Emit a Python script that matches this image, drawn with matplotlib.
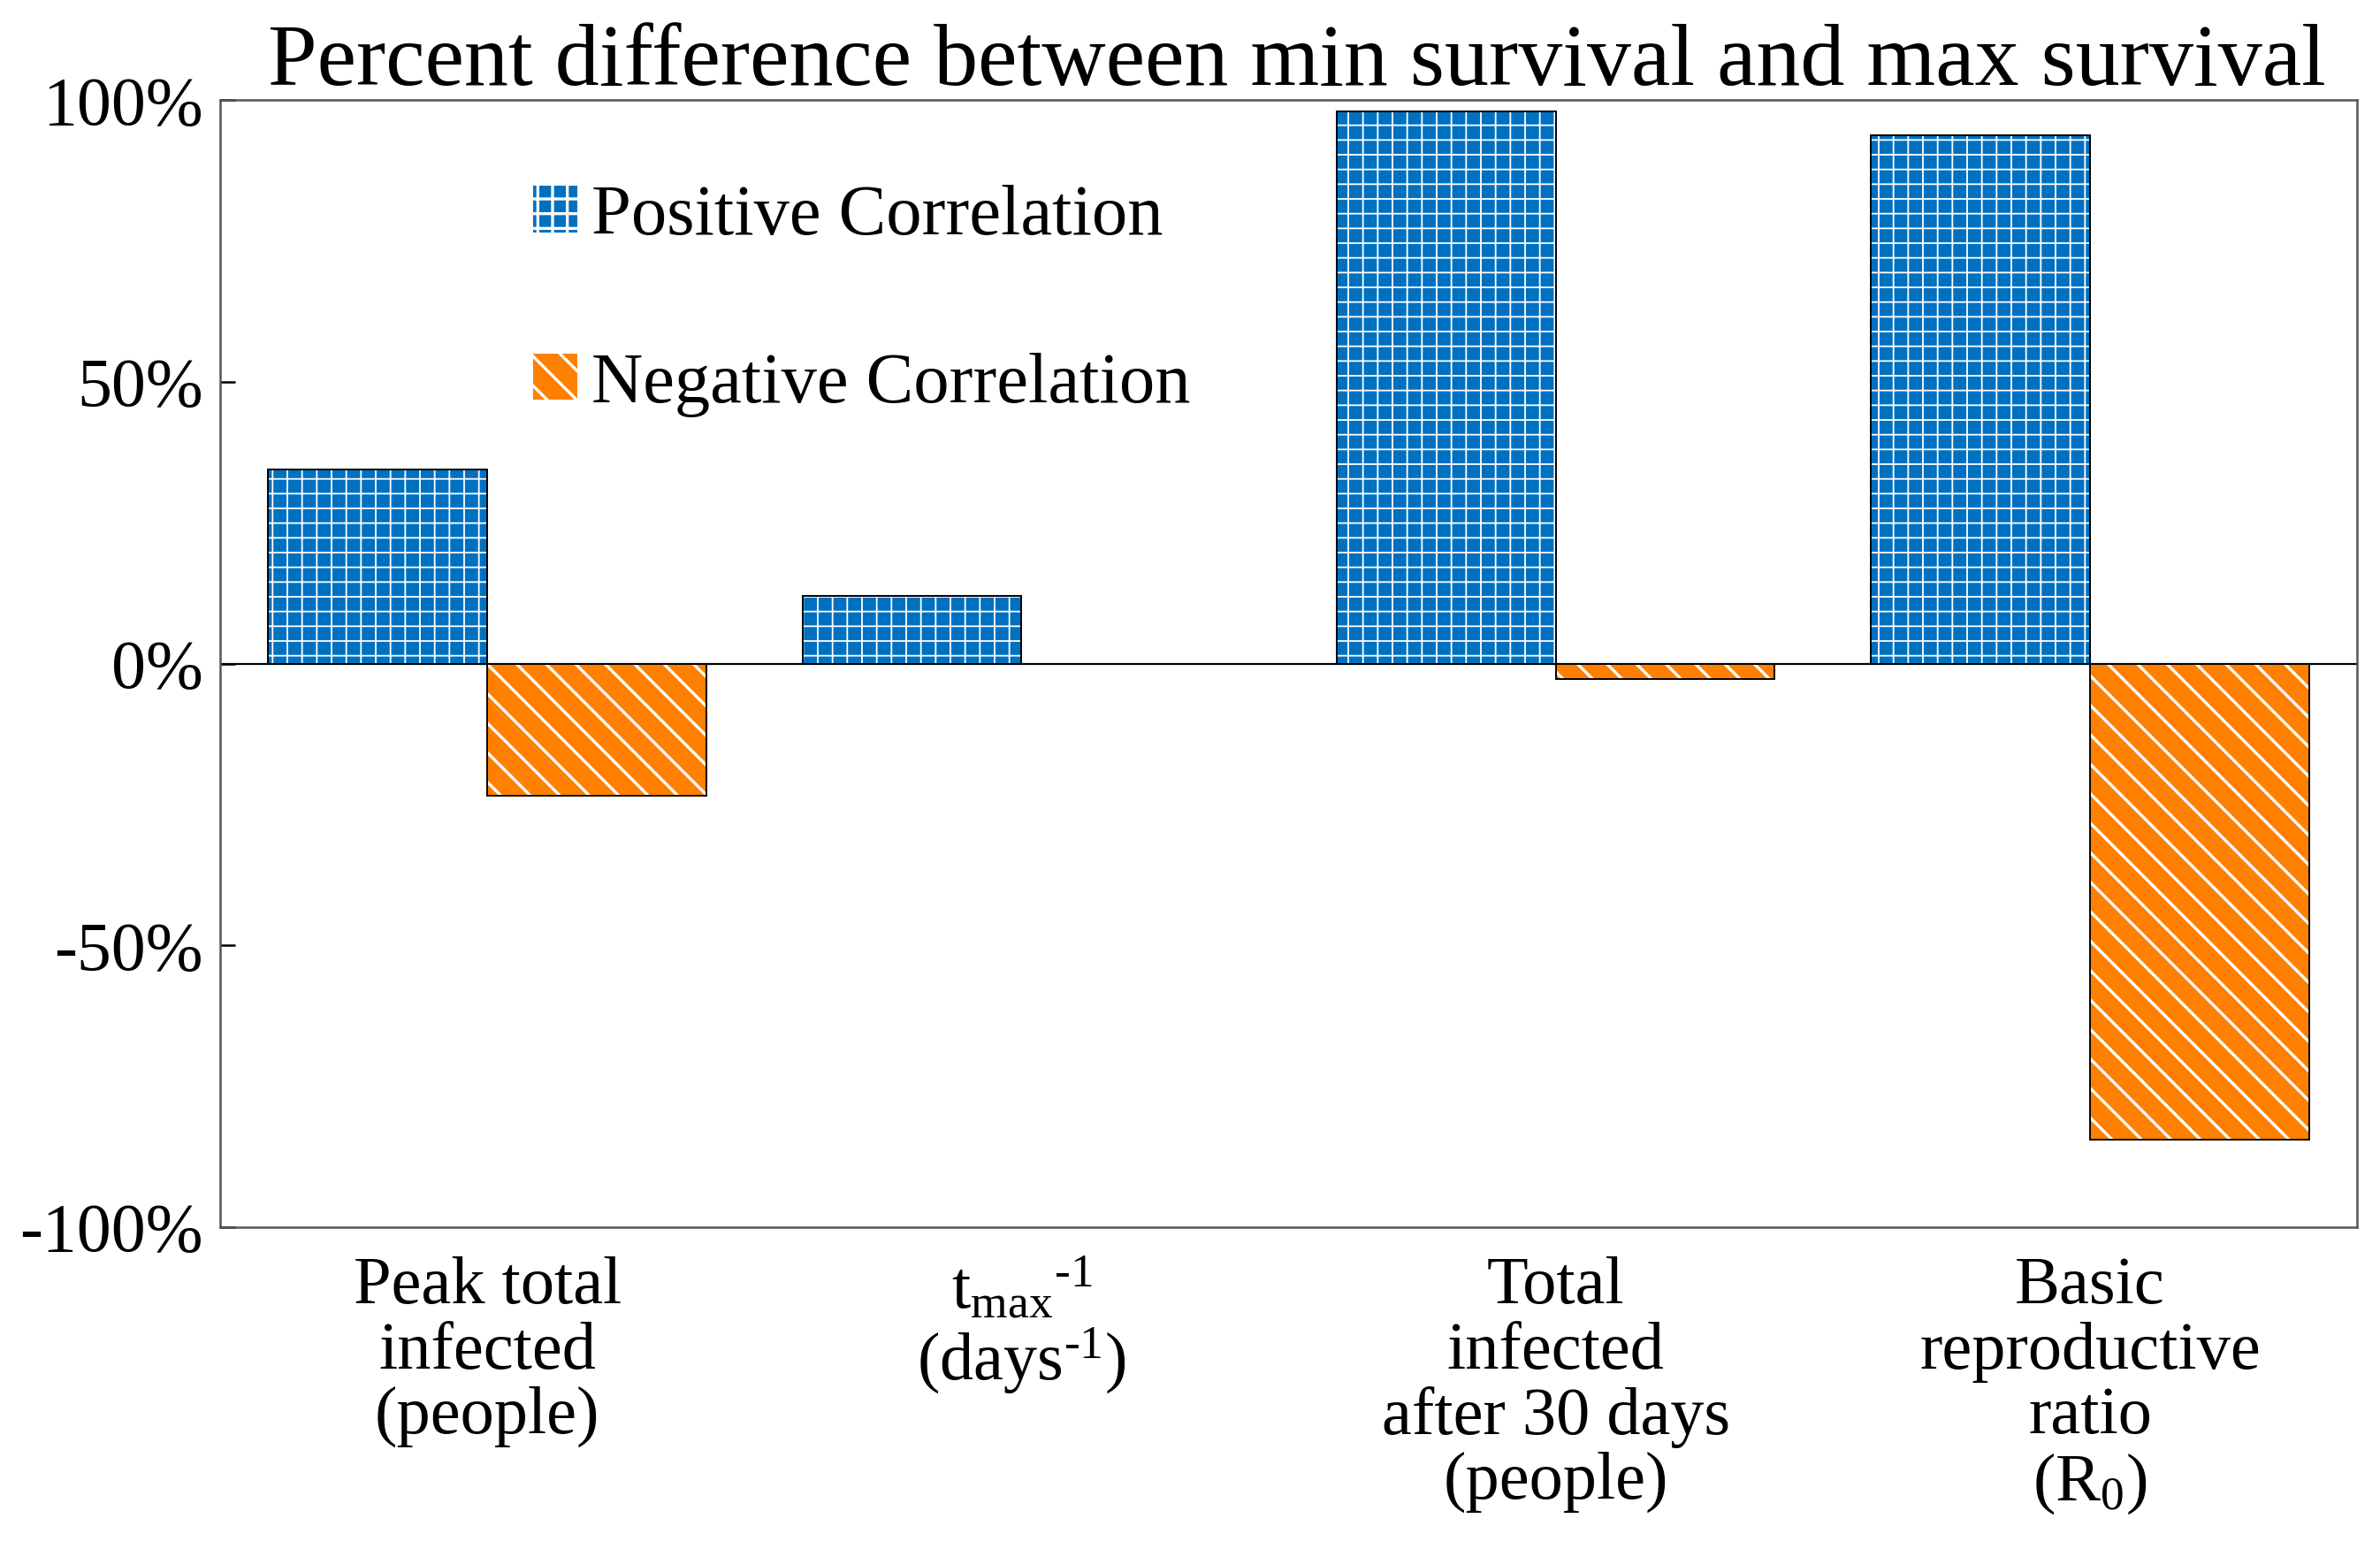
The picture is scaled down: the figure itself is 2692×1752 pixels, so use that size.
import matplotlib
matplotlib.use("Agg")
import matplotlib.pyplot as plt
import numpy as np

plt.rcParams['font.family'] = ['Liberation Serif', 'DejaVu Serif']
plt.rcParams['mathtext.fontset'] = 'custom'
plt.rcParams['mathtext.rm'] = 'Liberation Serif'
plt.rcParams['mathtext.it'] = 'Liberation Serif:italic'

# data
categories = ["Peak total\ninfected\n(people)",
              "$\\mathrm{t_{max}{}^{\\text{-1}}}$\n(days$^{\\text{-1}}$)",
              "Total\ninfected\nafter 30 days\n(people)",
              "Basic\nreproductive\nratio\n(R$_{\\mathrm{0}}$)"]
positive = [34.5, 12.1, 98.0, 93.8]
negative = [-23.4, 0.0, -2.7, -84.4]
ytick_vals = [-100, -50, 0, 50, 100]
ytick_labels = ["-100%", "-50%", "0%", "50%", "100%"]

blue = '#0070C0'
orange = '#FF8000'

fig = plt.figure(figsize=(26.92, 17.52), dpi=100)
ax = fig.add_axes([0.0925, 0.2078, 0.9904 - 0.0925, 0.9353 - 0.2078])

x = np.arange(len(categories))
w = 0.41
ax.axhline(0, color='black', lw=1.6, zorder=1)
plt.rcParams['hatch.linewidth'] = 1.3
b1 = ax.bar(x - w / 2, positive, w, color=blue, hatch='+', edgecolor='white', lw=0, zorder=2,
            label='Positive Correlation')
plt.rcParams['hatch.linewidth'] = 2.4
b2 = ax.bar(x + w / 2, negative, w, color=orange, hatch='\\', edgecolor='white', lw=0, zorder=2,
            label='Negative Correlation')
ax.bar(x - w / 2, positive, w, fill=False, edgecolor='black', lw=1.4, zorder=3)
ax.bar(x + w / 2, negative, w, fill=False, edgecolor='black', lw=1.4, zorder=3)

ax.set_xlim(-0.5, 3.5)
ax.set_ylim(-100, 100)
ax.set_yticks(ytick_vals)
ax.set_yticklabels(ytick_labels)
ax.set_xticks(x)
ax.set_xticklabels(categories, linespacing=1.08)
ax.tick_params(axis='y', direction='in', length=12, width=1.8, pad=14, labelsize=56)
ax.tick_params(axis='x', length=0, pad=24, labelsize=55)
for s in ax.spines.values():
    s.set_color('#555555')
    s.set_linewidth(1.8)

ax.legend(handles=[b1, b2], loc='upper left', bbox_to_anchor=(0.1466, 0.925), frameon=False,
          fontsize=58, handlelength=0.62, handleheight=0.62, handletextpad=0.2,
          labelspacing=1.45, borderpad=0, borderaxespad=0)

fig.text(0.545, 0.959, "Percent difference between min survival and max survival",
         ha='center', va='center', fontsize=72)

fig.savefig("out.png", dpi=100)
